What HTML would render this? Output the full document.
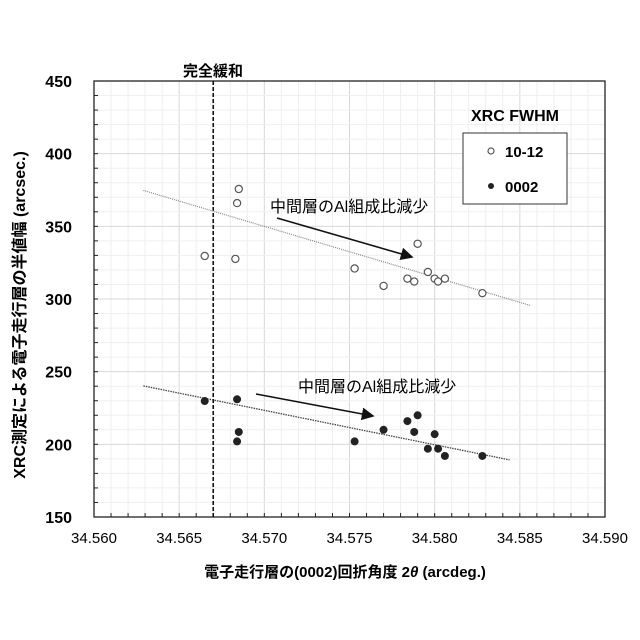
<!DOCTYPE html>
<html><head><meta charset="utf-8"><style>
body{margin:0;background:#fff}
svg{display:block;font-family:"Liberation Sans","Noto Sans CJK JP",sans-serif}
</style></head><body>
<svg id="chart" width="640" height="640" viewBox="0 0 640 640">
<g id="grid"></g>
<g id="axes"></g>
<g id="marks"></g>
<text x="213" y="76" text-anchor="middle" font-size="15" font-weight="bold">完全緩和</text>
<text x="515" y="121" text-anchor="middle" font-size="16" font-weight="bold">XRC FWHM</text>
<rect x="463" y="133" width="104" height="71" fill="#fff" stroke="#333" stroke-width="1"/>
<circle cx="491" cy="151" r="3" fill="#fff" stroke="#555" stroke-width="1.2"/>
<text x="505" y="157" font-size="15" font-weight="bold">10-12</text>
<circle cx="491" cy="186" r="3" fill="#222"/>
<text x="505" y="192" font-size="15" font-weight="bold">0002</text>
<text x="270" y="212" font-size="16">中間層のAl組成比減少</text>
<text x="298" y="392" font-size="16">中間層のAl組成比減少</text>
<defs><marker id="ah" markerWidth="8" markerHeight="8" refX="7" refY="4" orient="auto"><path d="M0,0 L8,4 L0,8 z" fill="#111"/></marker></defs>
<line x1="277" y1="218" x2="412" y2="257" stroke="#111" stroke-width="1.6" marker-end="url(#ah)"/>
<line x1="256" y1="394" x2="373" y2="416" stroke="#111" stroke-width="1.6" marker-end="url(#ah)"/>
<text transform="translate(25,315) rotate(-90)" text-anchor="middle" font-size="16" font-weight="bold">XRC測定による電子走行層の半値幅 (arcsec.)</text>
<text x="345" y="577" text-anchor="middle" font-size="15" font-weight="bold">電子走行層の(0002)回折角度 2<tspan font-style="italic">θ</tspan> (arcdeg.)</text>
</svg>
<script>
const xTicks=[34.560,34.565,34.570,34.575,34.580,34.585,34.590];
const xTickLabels=["34.560","34.565","34.570","34.575","34.580","34.585","34.590"];
const yTicks=[150,200,250,300,350,400,450];
const yTickLabels=["150","200","250","300","350","400","450"];
const x1012=[34.5665,34.5685,34.5684,34.5683,34.5753,34.5770,34.5790,34.5784,34.5788,34.5796,34.5800,34.5802,34.5806,34.5828];
const y1012=[329.6,375.7,366,327.6,321,309,338,314,312,318.6,314,312,314,304];
const x0002=[34.5665,34.5684,34.5685,34.5684,34.5753,34.5770,34.5784,34.5790,34.5788,34.5800,34.5796,34.5802,34.5806,34.5828];
const y0002=[229.8,231,208.5,202,202,210,216,220,208.5,207,197,197,192,192];
const trend1012X=[34.5629,34.5856];
const trend1012Y=[374.7,295.6];
const trend0002X=[34.5629,34.5844];
const trend0002Y=[240.2,189.3];
const relaxX=34.5670;

const L=94,R=605,T=81,B=517;
const sx=v=>L+(v-34.560)/(0.030)*(R-L);
const sy=v=>B-(v-150)/300*(B-T);
const NS="http://www.w3.org/2000/svg";
function mk(tag,attrs,parent){const e=document.createElementNS(NS,tag);for(const k in attrs)e.setAttribute(k,attrs[k]);parent.appendChild(e);return e;}
const grid=document.getElementById('grid'),axes=document.getElementById('axes'),marks=document.getElementById('marks');
for(let i=0;i<=30;i++){const v=34.560+i*0.001;const l=mk('line',{x1:sx(v),x2:sx(v),y1:T,y2:B,stroke:i%5===0?'#d8d8d8':'#efefef','stroke-width':1},grid);

}
for(let i=0;i<=30;i++){const v=150+i*10;const l=mk('line',{x1:L,x2:R,y1:sy(v),y2:sy(v),stroke:i%5===0?'#d8d8d8':'#efefef','stroke-width':1},grid);

}
const fr=mk('rect',{x:L,y:T,width:R-L,height:B-T,fill:'none',stroke:'#222','stroke-width':1.3},axes);


for(let i=0;i<=30;i++){const v=150+i*10;const t=mk('line',{x1:L,x2:L+4,y1:sy(v),y2:sy(v),stroke:'#222'},axes);

}
for(let i=0;i<=30;i++){const v=34.560+i*0.001;const t=mk('line',{x1:sx(v),x2:sx(v),y1:B,y2:B-4,stroke:'#222'},axes);

}
yTicks.forEach((v,i)=>{const t=mk('text',{x:72,y:sy(v)+6,'text-anchor':'end','font-size':16,'font-weight':'bold'},axes);t.textContent=yTickLabels[i];

});
xTicks.forEach((v,i)=>{const t=mk('text',{x:sx(v),y:543,'text-anchor':'middle','font-size':15},axes);t.textContent=xTickLabels[i];

});
const rl=mk('line',{x1:sx(relaxX),x2:sx(relaxX),y1:T,y2:B,stroke:'#111','stroke-width':1.6,'stroke-dasharray':'4,2'},marks);


const t1=mk('line',{x1:sx(trend1012X[0]),y1:sy(trend1012Y[0]),x2:sx(trend1012X[1]),y2:sy(trend1012Y[1]),stroke:'#888','stroke-width':1.2,'stroke-dasharray':'1,1'},marks);


const t2=mk('line',{x1:sx(trend0002X[0]),y1:sy(trend0002Y[0]),x2:sx(trend0002X[1]),y2:sy(trend0002Y[1]),stroke:'#444','stroke-width':1.3,'stroke-dasharray':'1.5,1'},marks);


x1012.forEach((v,i)=>{const c=mk('circle',{cx:sx(v),cy:sy(y1012[i]),r:3.6,fill:'#fff',stroke:'#555','stroke-width':1.2},marks);

});
x0002.forEach((v,i)=>{const c=mk('circle',{cx:sx(v),cy:sy(y0002[i]),r:4,fill:'#222'},marks);

});
</script>
</body></html>
